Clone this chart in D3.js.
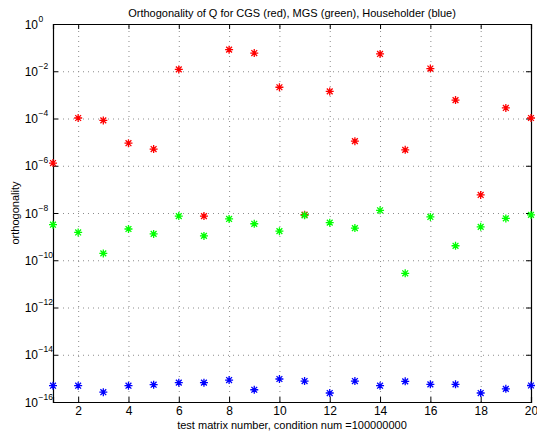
<!DOCTYPE html>
<html>
<head>
<meta charset="utf-8">
<script src="https://cdn.jsdelivr.net/npm/d3@7"></script>
<style>
  body { margin: 0; background: #fff; }
  svg text { font-family: "Liberation Sans", Arial, sans-serif; fill: #000; }
</style>
</head>
<body>
<svg id="chart" width="537" height="434"></svg>
<script>
// test matrix numbers
let matrixNums = [1,2,3,4,5,6,7,8,9,10,11,12,13,14,15,16,17,18,19,20]

// ||I - Q'Q|| for each method
let cgsVals = [1.3e-6, 1.05e-4, 8.3e-5, 9e-6, 5.1e-6, 1.2e-2, 7.4e-9, 8.2e-2, 5.9e-2, 2.1e-3,
  8.5e-9, 1.4e-3, 1.1e-5, 5.4e-2, 4.7e-6, 1.3e-2, 6e-4, 5.8e-8, 2.8e-4, 1.05e-4]
let mgsVals = [3.2e-9, 1.5e-9, 1.95e-10, 2.1e-9, 1.3e-9, 7.4e-9, 1.07e-9, 5.6e-9, 3.5e-9, 1.7e-9,
  8e-9, 3.9e-9, 2.3e-9, 1.3e-8, 2.8e-11, 6.8e-9, 4.1e-10, 2.6e-9, 5.9e-9, 8.3e-9]
let houseVals = [4.9e-16, 4.9e-16, 2.6e-16, 4.9e-16, 5.4e-16, 6.6e-16, 6.6e-16, 8.5e-16, 3.3e-16, 9.4e-16,
  7.7e-16, 2.4e-16, 7.7e-16, 4.9e-16, 7.5e-16, 5.6e-16, 5.6e-16, 2.4e-16, 3.6e-16, 5e-16]

let xTicks = [2,4,6,8,10,12,14,16,18,20]
let yTickExps = [0,-2,-4,-6,-8,-10,-12,-14,-16]

let series = [
  { name: 'CGS', values: cgsVals, color: '#ff0000' },
  { name: 'MGS', values: mgsVals, color: '#00ff00' },
  { name: 'Householder', values: houseVals, color: '#0000ff' }
]

let margin = { top: 24, right: 6, bottom: 32, left: 53 }
let width = 537 - margin.left - margin.right
let height = 434 - margin.top - margin.bottom

let svg = d3.select('#chart')
let plot = svg.append('g')
  .attr('transform', 'translate(' + margin.left + ',' + margin.top + ')')

let x = d3.scaleLinear().domain([1, 20]).range([0, width])
let y = d3.scaleLog().domain([1e-16, 1]).range([height, 0])
let yTicks = yTickExps.map(e => Math.pow(10, e))

// dotted grid
plot.append('g').attr('class', 'grid x')
  .attr('transform', 'translate(0,' + height + ')')
  .call(d3.axisBottom(x).tickValues(xTicks).tickSize(-height).tickFormat(''))
plot.append('g').attr('class', 'grid y')
  .call(d3.axisLeft(y).tickValues(yTicks).tickSize(-width).tickFormat(''))
plot.selectAll('.grid .domain').remove()
plot.selectAll('.grid line')
  .attr('stroke', '#8c8c8c')
  .attr('stroke-width', 1)
  .attr('stroke-dasharray', '1,4')

// box with inward ticks
let bottomAxis = plot.append('g').attr('class', 'axis')
  .attr('transform', 'translate(0,' + height + ')')
  .call(d3.axisBottom(x).tickValues(xTicks).tickSize(-5).tickPadding(4).tickFormat(d3.format('d')))
plot.append('g').attr('class', 'axis')
  .call(d3.axisTop(x).tickValues(xTicks).tickSize(-5).tickFormat(''))
let leftAxis = plot.append('g').attr('class', 'axis')
  .call(d3.axisLeft(y).tickValues(yTicks).tickSize(-5).tickFormat(''))
plot.append('g').attr('class', 'axis')
  .attr('transform', 'translate(' + width + ',0)')
  .call(d3.axisRight(y).tickValues(yTicks).tickSize(-5).tickFormat(''))
plot.selectAll('.axis .domain').attr('stroke', '#000').attr('stroke-width', 1.2)
plot.selectAll('.axis line').attr('stroke', '#000')

bottomAxis.selectAll('text')
  .attr('font-size', 12)
  .attr('font-family', '"Liberation Sans", Arial, sans-serif')

// y tick labels as 10 with superscript exponent
leftAxis.selectAll('.tick').each(function (d) {
  let e = Math.round(Math.log10(d))
  let t = d3.select(this)
  t.append('text')
    .attr('x', -15)
    .attr('y', 4)
    .attr('text-anchor', 'end')
    .attr('font-size', 12)
    .attr('fill', '#000')
    .text('10')
  t.append('text')
    .attr('x', -14.5)
    .attr('y', -3)
    .attr('text-anchor', 'start')
    .attr('font-size', 8.5)
    .attr('fill', '#000')
    .text(e === 0 ? '0' : '\u2212' + Math.abs(e))
})

// asterisk markers
let star = 'M-4,0L4,0M0,-4L0,4M-2.9,-2.9L2.9,2.9M-2.9,2.9L2.9,-2.9'
series.forEach(s => {
  plot.append('g').selectAll('path')
    .data(s.values)
    .enter()
    .append('path')
    .attr('d', star)
    .attr('transform', (d, i) => 'translate(' + x(matrixNums[i]) + ',' + y(d) + ')')
    .attr('stroke', s.color)
    .attr('stroke-width', 1.3)
    .attr('fill', 'none')
})

// titles
svg.append('text')
  .attr('x', margin.left + width / 2)
  .attr('y', 17)
  .attr('text-anchor', 'middle')
  .attr('font-size', 11)
  .text('Orthogonality of Q for CGS (red), MGS (green), Householder (blue)')

svg.append('text')
  .attr('x', margin.left + width / 2)
  .attr('y', 429)
  .attr('text-anchor', 'middle')
  .attr('font-size', 11)
  .text('test matrix number, condition num =100000000')

svg.append('text')
  .attr('transform', 'translate(19,' + (margin.top + height / 2) + ') rotate(-90)')
  .attr('text-anchor', 'middle')
  .attr('font-size', 11)
  .text('orthogonality')
</script>
</body>
</html>
